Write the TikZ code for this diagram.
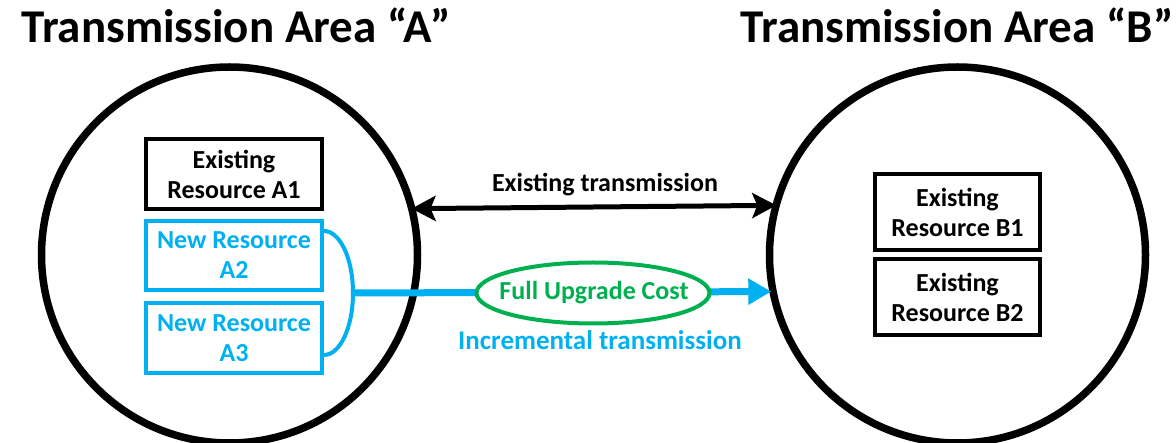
\documentclass[tikz,border=0pt]{standalone}
\usepackage{fontspec}
\setmainfont{Carlito}
\usetikzlibrary{arrows.meta,shapes.geometric}

\definecolor{clrblue}{RGB}{0,176,240}
\definecolor{clrgreen}{RGB}{0,176,80}

\tikzset{every picture/.style={line width=0.75pt}}
\tikzset{
  areacircle/.style={circle,draw=black,line width=7.5pt,minimum size=376pt,inner sep=0pt},
  oldbox/.style={draw=black,line width=4pt,minimum width=176pt,align=center,inner sep=0pt,font=\fontsize{26}{30}\selectfont\bfseries},
  newbox/.style={oldbox,draw=clrblue,text=clrblue},
  titletext/.style={anchor=base,inner sep=0pt,font=\fontsize{47}{56}\selectfont\bfseries},
  labeltext/.style={anchor=base,inner sep=0pt,font=\fontsize{26}{30}\selectfont\bfseries}
}

\begin{document}
\begin{tikzpicture}[x=1pt,y=1pt,yscale=-1,xscale=1]
					\useasboundingbox (0,0) rectangle (1176,443);
					%Circles
					\node (areaA) [areacircle] at (229.5,255) {};
					\node (areaB) [areacircle] at (957.5,255) {};
					
					% Text Node
					\node (titleA) [titletext] at (236,43) {Transmission Area “A”};
					% Text Node
					\node (titleB) [titletext] at (957,43) {Transmission Area “B”};
					
					%Boxes in area A
					\node (resA1) [oldbox,minimum height=70pt] at (234,174) {Existing\\Resource A1};
					\node (resA2) [newbox,minimum height=69pt] at (234,255.5) {New Resource\\A2};
					\node (resA3) [newbox,minimum height=70pt] at (234,338) {New Resource\\A3};
					%Boxes in area B
					\node (resB1) [oldbox,minimum width=165pt,minimum height=76pt] at (957.5,212) {Existing\\Resource B1};
					\node (resB2) [oldbox,minimum width=165pt,minimum height=76pt] at (957.5,297.5) {Existing\\Resource B2};
					
					%Straight Lines
					\draw [line width=5pt,{Stealth[length=24pt,width=25pt,inset=5pt]}-{Stealth[length=24pt,width=25pt,inset=5pt]},shorten <=-4pt,shorten >=-4pt] (areaA.14.5) -- (areaB.165.5) ;
					% Text Node
					\node (oldline) [labeltext] at (605,192) {Existing transmission};
					
					%Curve Lines
					\coordinate (hub) at (351,293);
					\draw [clrblue,line width=4pt] (resA2.east |- hub) ++(0,-62) arc [start angle=-90,end angle=90,x radius=29pt,y radius=62pt] ;
					%Straight Lines
					\draw [clrblue,line width=7pt,-{Triangle[length=23pt,width=25pt]},shorten >=-2pt] (hub) -- (areaB.191.7) ;
					
					%Shape: Ellipse
					\node (fullcost) [ellipse,draw=clrgreen,fill=white,line width=4pt,minimum width=233pt,minimum height=61pt,inner sep=0pt] at (593,293) {};
					% Text Node
					\node (costtext) [labeltext,text=clrgreen] at (594,300) {Full Upgrade Cost};
					% Text Node
					\node (newline) [labeltext,text=clrblue,font=\fontsize{27}{30}\selectfont\bfseries] at (600,350) {Incremental transmission};
				\end{tikzpicture}
\end{document}
